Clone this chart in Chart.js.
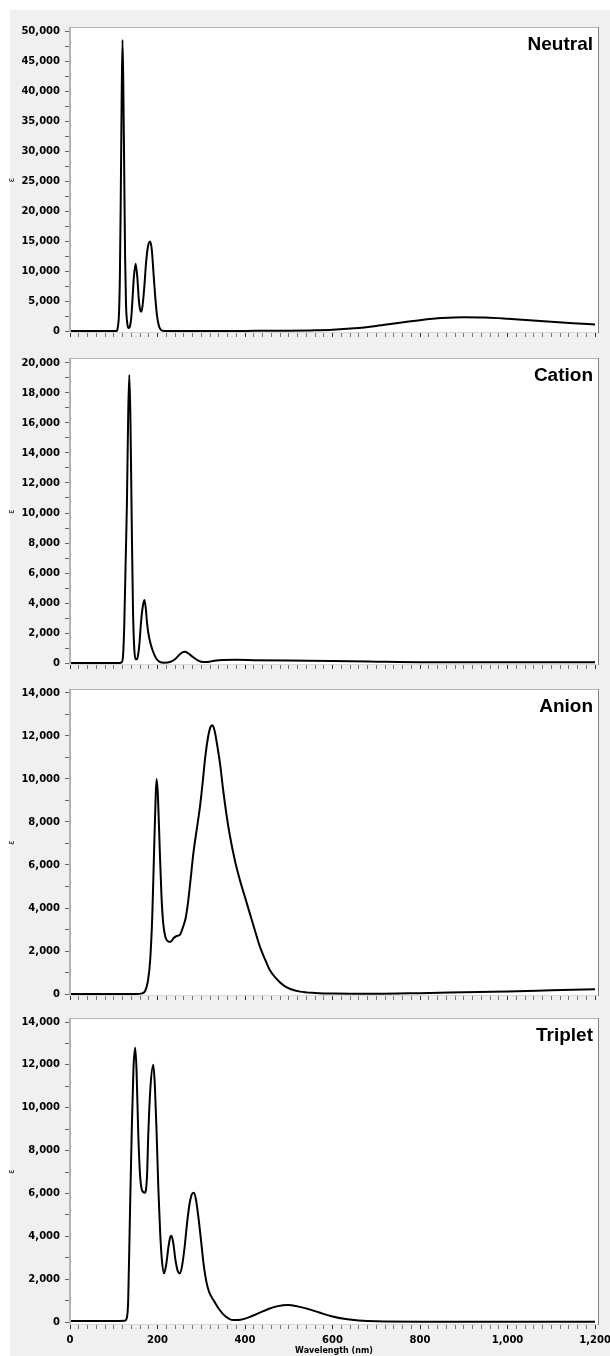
<!DOCTYPE html>
<html>
<head>
<meta charset="utf-8">
<script src="https://cdn.jsdelivr.net/npm/chart.js@4.4.1/dist/chart.umd.min.js"></script>
<style>
  html, body { margin: 0; padding: 0; background: #fff; }
  #page { position: relative; width: 610px; height: 1356px; overflow: hidden; }
  #bg { position: absolute; left: 10px; top: 10px; width: 600px; height: 1346px; background: #f0f0f0; }
  canvas { position: absolute; left: 0; }
</style>
</head>
<body>
<div id="page">
  <div id="bg"></div>
  <canvas id="neutral" width="610" height="346" style="top:0px"></canvas>
  <canvas id="cation" width="610" height="331" style="top:346px"></canvas>
  <canvas id="anion" width="610" height="330" style="top:677px"></canvas>
  <canvas id="triplet" width="610" height="349" style="top:1007px"></canvas>
</div>
<script>
// wavelength (nm) / epsilon pairs
const neutralNm  = [0, 100, 106, 109, 112, 114, 116, 118, 120, 122, 124, 126, 128, 131, 134, 137, 140, 143, 146, 150, 154, 157, 160, 163, 166, 170, 174, 178, 183, 187, 191, 195, 199, 203, 207, 212, 220, 300, 400, 500, 550, 600, 650, 700, 750, 800, 850, 900, 950, 1000, 1050, 1100, 1150, 1200];
const neutralEps = [0, 0, 0, 500, 3000, 9000, 22000, 38000, 48500, 40000, 26000, 12000, 4500, 1200, 500, 800, 2200, 5500, 9000, 11200, 8800, 5500, 3600, 3200, 4300, 7500, 11500, 14000, 14900, 13500, 9500, 5500, 2500, 900, 250, 50, 0, 0, 20, 50, 100, 200, 450, 850, 1350, 1800, 2150, 2300, 2250, 2050, 1800, 1550, 1300, 1100];

const cationNm  = [0, 110, 118, 121, 124, 127, 130, 133, 135.5, 138, 141, 144, 147, 150, 153, 156, 159, 162, 166, 170, 173, 176, 179, 184, 190, 197, 205, 215, 230, 240, 250, 258, 263, 270, 280, 292, 305, 315, 330, 350, 380, 420, 500, 600, 700, 750, 800, 1200];
const cationEps = [0, 0, 50, 400, 2500, 6500, 10500, 16500, 19200, 16500, 9600, 3500, 900, 250, 250, 600, 1400, 2600, 3700, 4200, 3700, 2700, 2000, 1300, 750, 300, 80, 20, 80, 250, 550, 720, 750, 650, 420, 180, 60, 70, 150, 200, 210, 190, 160, 140, 90, 60, 50, 50];

const anionNm  = [0, 150, 165, 172, 178, 183, 188, 192, 196, 198, 201, 205, 209, 213, 218, 224, 230, 237, 244, 251, 258, 264, 270, 276, 282, 290, 297, 303, 309, 316, 322, 326, 331, 337, 343, 350, 358, 366, 377, 389, 400, 411, 422, 434, 446, 457, 470, 488, 505, 526, 560, 600, 700, 800, 900, 1000, 1100, 1200];
const anionEps = [0, 0, 30, 150, 600, 1500, 3600, 6500, 9300, 10000, 9200, 6800, 4600, 3300, 2650, 2450, 2430, 2600, 2700, 2750, 3100, 3500, 4300, 5400, 6550, 7700, 8700, 9800, 11000, 12000, 12450, 12500, 12200, 11500, 10700, 9500, 8300, 7300, 6200, 5250, 4500, 3750, 3000, 2200, 1600, 1100, 750, 400, 220, 110, 50, 20, 10, 40, 80, 120, 170, 220];

const tripletNm  = [0, 100, 125, 130, 133, 137, 141, 145, 149, 152, 156, 160, 164, 171, 176, 179, 184, 190.5, 194, 198, 202, 206, 210, 215, 220, 225, 229, 232, 236, 241, 246, 251, 256, 262, 268, 274, 279, 283, 288, 294, 300, 306, 312, 318, 324, 330, 340, 355, 373, 390, 410, 430, 455, 475, 498, 520, 545, 570, 600, 630, 660, 700, 800, 1200];
const tripletEps = [50, 50, 60, 200, 1000, 5000, 8800, 11800, 12800, 11800, 8800, 6900, 6200, 6030, 6800, 8800, 11000, 12000, 11000, 8800, 6200, 4200, 2900, 2270, 2700, 3500, 3950, 4030, 3700, 2900, 2400, 2270, 2600, 3500, 4700, 5600, 5980, 6030, 5700, 4800, 3700, 2600, 1850, 1400, 1150, 950, 620, 270, 90, 110, 230, 400, 620, 740, 790, 730, 600, 440, 260, 140, 70, 30, 15, 15];

const xTickStep = 20;
const xLabelStep = 200;

const panels = [
  { id: "neutral", title: "Neutral", nm: neutralNm, eps: neutralEps, canvasTop: 0, plotTop: 27, plotBottom: 333, yMin: -333, yMax: 50667, yMinor: 2500, yMajor: 5000, xLabels: false },
  { id: "cation", title: "Cation", nm: cationNm, eps: cationEps, canvasTop: 346, plotTop: 358, plotBottom: 665, yMin: -133, yMax: 20333, yMinor: 1000, yMajor: 2000, xLabels: false },
  { id: "anion", title: "Anion", nm: anionNm, eps: anionEps, canvasTop: 677, plotTop: 689, plotBottom: 996, yMin: -93, yMax: 14186, yMinor: 1000, yMajor: 2000, xLabels: false },
  { id: "triplet", title: "Triplet", nm: tripletNm, eps: tripletEps, canvasTop: 1007, plotTop: 1018, plotBottom: 1325, yMin: -140, yMax: 14187, yMinor: 1000, yMajor: 2000, xLabels: true }
];

const panelFrame = {
  id: "panelFrame",
  beforeDraw(chart) {
    const { ctx, chartArea: a } = chart;
    ctx.save();
    ctx.fillStyle = "#fff";
    ctx.fillRect(a.left, a.top, a.right - a.left, a.bottom - a.top);
    ctx.restore();
  },
  afterDraw(chart, args, opts) {
    const { ctx, chartArea: a } = chart;
    ctx.save();
    ctx.fillStyle = "#b4b4b4";
    ctx.fillRect(a.left, a.top, a.right - a.left, 1);
    ctx.fillRect(a.left, a.top, 2, a.bottom - a.top);
    ctx.fillStyle = "#d8d8d8";
    ctx.fillRect(a.left, a.bottom - 1, a.right - a.left, 1);
    ctx.fillStyle = "#808080";
    ctx.fillRect(a.right - 1, a.top, 1, a.bottom - a.top);
    ctx.font = 'bold 19px "Liberation Sans", Arial, sans-serif';
    ctx.textAlign = "right";
    ctx.textBaseline = "alphabetic";
    ctx.fillStyle = "#000";
    ctx.fillText(opts.text, a.right - 6, a.top + 23);
    ctx.restore();
  }
};

const fmt = v => v.toLocaleString("en-US");

panels.forEach(p => {
  const canvas = document.getElementById(p.id);
  const h = canvas.height;
  const yTicks = [];
  for (let v = 0; v <= p.yMax; v += p.yMinor) yTicks.push(v);
  const xTicks = [];
  for (let v = 0; v <= 1200; v += xTickStep) xTicks.push(v);

  new Chart(canvas, {
    type: "line",
    data: {
      datasets: [{
        data: p.nm.map((x, i) => ({ x: x, y: p.eps[i] })),
        borderColor: "#000",
        borderWidth: 2,
        pointRadius: 0,
        fill: false,
        cubicInterpolationMode: "monotone"
      }]
    },
    options: {
      responsive: false,
      animation: false,
      devicePixelRatio: 1,
      layout: { padding: { top: p.plotTop - p.canvasTop, left: 0, right: 11, bottom: 0 } },
      plugins: {
        legend: { display: false },
        tooltip: { enabled: false },
        panelFrame: { text: p.title }
      },
      scales: {
        x: {
          type: "linear",
          min: -2.29,
          max: 1209.1,
          afterBuildTicks: s => { s.ticks = xTicks.map(v => ({ value: v })); },
          afterFit: s => {
            s.height = h - (p.plotBottom - p.canvasTop);
            s.paddingLeft = 0; s.paddingRight = 0;
          },
          border: { display: false },
          grid: {
            drawOnChartArea: false, drawTicks: true, tickLength: 4,
            tickColor: c => c.tick && c.tick.value % xLabelStep === 0 ? "#333" : "#777"
          },
          ticks: {
            autoSkip: false,
            maxRotation: 0,
            padding: 5,
            color: "#000",
            font: { family: '"DejaVu Sans", Verdana, sans-serif', size: 10, weight: "bold" },
            callback: v => (p.xLabels && v % xLabelStep === 0) ? fmt(v) : ""
          },
          title: {
            display: p.xLabels,
            text: "Wavelength (nm)",
            color: "#000",
            padding: 0,
            font: { family: '"DejaVu Sans", Verdana, sans-serif', size: 8, weight: "bold" }
          }
        },
        y: {
          min: p.yMin,
          max: p.yMax,
          afterBuildTicks: s => { s.ticks = yTicks.map(v => ({ value: v })); },
          afterFit: s => {
            s.width = 69;
            s.paddingTop = 0; s.paddingBottom = 0;
          },
          border: { display: false },
          grid: { drawOnChartArea: false, drawTicks: true, tickLength: 4, color: "#666" },
          ticks: {
            autoSkip: false,
            padding: 5,
            color: "#000",
            font: { family: '"DejaVu Sans", Verdana, sans-serif', size: 10, weight: "bold" },
            callback: v => v % p.yMajor === 0 ? fmt(v) : ""
          },
          title: {
            display: true,
            text: "ε",
            color: "#000",
            padding: { top: 7, bottom: 0 },
            font: { family: '"DejaVu Sans", sans-serif', size: 8 }
          }
        }
      }
    },
    plugins: [panelFrame]
  });
});
</script>
</body>
</html>
